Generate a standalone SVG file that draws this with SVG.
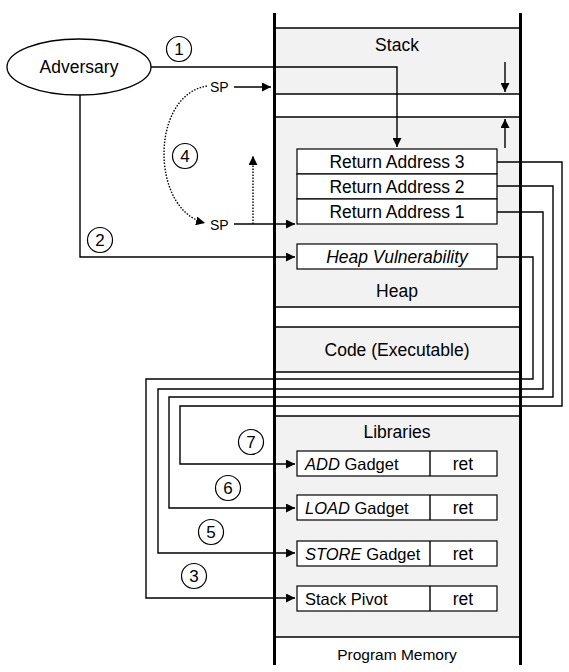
<svg xmlns="http://www.w3.org/2000/svg" width="569" height="672" viewBox="0 0 569 672">
<defs>
<marker id="ah" viewBox="0 0 10 10" refX="10" refY="5" markerWidth="9" markerHeight="9" markerUnits="userSpaceOnUse" orient="auto"><path d="M0,0 L10,5 L0,10 z" fill="#000"/></marker>
<style>
text{font-family:"Liberation Sans",Arial,sans-serif;font-size:17.5px;fill:#000}
.c{text-anchor:middle}
.g{font-size:16.5px}
.l{fill:none;stroke:#000;stroke-width:1.4}
.d{fill:none;stroke:#000;stroke-width:1.4;stroke-dasharray:1.5 1.5}
.box{fill:#fff;stroke:#000;stroke-width:1.2}
.num{fill:#fff;stroke:#000;stroke-width:1.2}
.sep{stroke:#000;stroke-width:1.4}
.n{font-size:17px}
</style>
</defs>
<rect width="569" height="672" fill="#fff"/>
<g id="memory">
<rect x="275" y="28" width="245" height="66" fill="#f2f2f2"/>
<rect x="275" y="117" width="245" height="190" fill="#f2f2f2"/>
<rect x="275" y="327" width="245" height="45" fill="#f2f2f2"/>
<rect x="275" y="416" width="245" height="221" fill="#f2f2f2"/>
<line class="sep" x1="275" y1="28" x2="520" y2="28"/>
<line class="sep" x1="275" y1="94" x2="520" y2="94"/>
<line class="sep" x1="275" y1="117" x2="520" y2="117"/>
<line class="sep" x1="275" y1="307" x2="520" y2="307"/>
<line class="sep" x1="275" y1="327" x2="520" y2="327"/>
<line class="sep" x1="275" y1="372" x2="520" y2="372"/>
<line class="sep" x1="275" y1="416" x2="520" y2="416"/>
<line class="sep" x1="275" y1="637" x2="520" y2="637"/>
<text class="c" x="397" y="51">Stack</text>
<text class="c" x="397" y="297">Heap</text>
<text class="c" x="397" y="356">Code (Executable)</text>
<text class="c" x="397" y="438">Libraries</text>
<text class="c" x="397" y="660" style="font-size:15.5px">Program Memory</text>
<line class="l" x1="505" y1="62" x2="505" y2="92" marker-end="url(#ah)"/>
<line class="l" x1="505" y1="148" x2="505" y2="119" marker-end="url(#ah)"/>
</g>
<g id="ra3"><rect class="box" x="297" y="149" width="200" height="25"/><text class="c" x="397" y="168">Return Address 3</text></g>
<g id="ra2"><rect class="box" x="297" y="174" width="200" height="25"/><text class="c" x="397" y="193">Return Address 2</text></g>
<g id="ra1"><rect class="box" x="297" y="199" width="200" height="25"/><text class="c" x="397" y="218">Return Address 1</text></g>
<g id="heapvuln"><rect class="box" x="297" y="244" width="200" height="25"/><text class="c" x="397" y="263" font-style="italic">Heap Vulnerability</text></g>
<g id="add"><rect class="box" x="297" y="451" width="200" height="25"/><line class="sep" x1="430" y1="451" x2="430" y2="476"/><text class="g" x="305" y="470"><tspan font-style="italic">ADD</tspan> Gadget</text><text class="c" x="463" y="470">ret</text></g>
<g id="load"><rect class="box" x="297" y="495" width="200" height="25"/><line class="sep" x1="430" y1="495" x2="430" y2="520"/><text class="g" x="305" y="514"><tspan font-style="italic">LOAD</tspan> Gadget</text><text class="c" x="463" y="514">ret</text></g>
<g id="store"><rect class="box" x="297" y="541" width="200" height="25"/><line class="sep" x1="430" y1="541" x2="430" y2="566"/><text class="g" x="305" y="560"><tspan font-style="italic">STORE</tspan> Gadget</text><text class="c" x="463" y="560">ret</text></g>
<g id="pivot"><rect class="box" x="297" y="586" width="200" height="25"/><line class="sep" x1="430" y1="586" x2="430" y2="611"/><text class="g" x="305" y="605">Stack Pivot</text><text class="c" x="463" y="605">ret</text></g>
<g id="adversary"><ellipse cx="79" cy="67" rx="72" ry="28" fill="#fff" stroke="#000" stroke-width="1.3"/><text class="c" x="79" y="73">Adversary</text></g>
<g id="sp1"><text x="210" y="92" style="font-size:14px">SP</text></g>
<g id="sp2"><text x="210" y="230" style="font-size:14px">SP</text></g>
<g id="connectors">
<polyline class="l" points="151,67 397,67 397,147" marker-end="url(#ah)"/>
<polyline class="l" points="80,95 80,257 295,257" marker-end="url(#ah)"/>
<line class="l" x1="234" y1="87" x2="271" y2="87" marker-end="url(#ah)"/>
<line class="l" x1="234" y1="224" x2="295" y2="224" marker-end="url(#ah)"/>
<line class="d" x1="253" y1="224" x2="253" y2="156" marker-end="url(#ah)"/>
<path class="d" d="M207,86 C150,95 150,210 205,223" marker-end="url(#ah)"/>
<polyline class="l" points="497,162 562,162 562,406 180,406 180,464 295,464" marker-end="url(#ah)"/>
<polyline class="l" points="497,186 553,186 553,397 169,397 169,508 295,508" marker-end="url(#ah)"/>
<polyline class="l" points="497,212 543,212 543,389 158,389 158,553 295,553" marker-end="url(#ah)"/>
<polyline class="l" points="497,257 533,257 533,379 146,379 146,598 295,598" marker-end="url(#ah)"/>
</g>
<g id="walls">
<line x1="274.5" y1="13" x2="274.5" y2="665" stroke="#000" stroke-width="3"/>
<line x1="520.5" y1="13" x2="520.5" y2="665" stroke="#000" stroke-width="3"/>
</g>
<g id="steps">
<circle class="num" cx="179" cy="49" r="12.5"/><text class="c n" x="179" y="55">1</text>
<circle class="num" cx="100" cy="240" r="12.5"/><text class="c n" x="100" y="246">2</text>
<circle class="num" cx="194" cy="576" r="12.5"/><text class="c n" x="194" y="582">3</text>
<circle class="num" cx="185" cy="156" r="12.5"/><text class="c n" x="185" y="162">4</text>
<circle class="num" cx="211" cy="532" r="12.5"/><text class="c n" x="211" y="538">5</text>
<circle class="num" cx="228" cy="488" r="12.5"/><text class="c n" x="228" y="494">6</text>
<circle class="num" cx="251" cy="442" r="12.5"/><text class="c n" x="251" y="448">7</text>
</g>
</svg>
